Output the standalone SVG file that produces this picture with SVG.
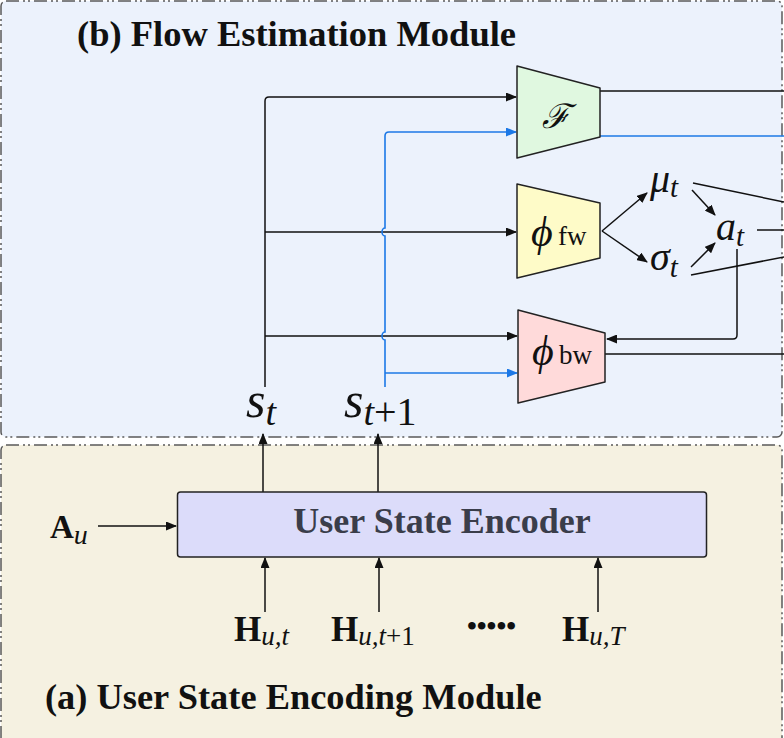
<svg xmlns="http://www.w3.org/2000/svg" width="784" height="738" viewBox="0 0 784 738">
<defs>
<marker id="ah" markerWidth="11" markerHeight="9" refX="10" refY="4.5" orient="auto" markerUnits="userSpaceOnUse"><path d="M0,0 L11,4.5 L0,9 z" fill="#111"/></marker>
<marker id="ahb" markerWidth="11" markerHeight="9" refX="10" refY="4.5" orient="auto" markerUnits="userSpaceOnUse"><path d="M0,0 L11,4.5 L0,9 z" fill="#1c78e6"/></marker>
<style>
.panel{stroke:#5a5a5a;stroke-width:1.5;stroke-dasharray:13 4 2 3 2 4}
.ln{fill:none;stroke:#111;stroke-width:1.5}
.bl{fill:none;stroke:#1c78e6;stroke-width:1.6}
.trap{stroke:#222;stroke-width:1.5;stroke-linejoin:round}
text{font-family:'Liberation Serif','DejaVu Serif',serif;fill:#111}
.it{font-style:italic}
.bd{font-weight:bold}
</style>
</defs>
<g id="panel-b">
<rect class="panel" x="1" y="1" width="781" height="436" rx="5" fill="#ecf2fc"/>
<text class="bd" x="77" y="46" font-size="36.5">(b) Flow Estimation Module</text>
</g>
<g id="panel-a">
<rect class="panel" x="1" y="445" width="781" height="310" rx="5" fill="#f5f1e1"/>
<text class="bd" x="45" y="709" font-size="36.4">(a) User State Encoding Module</text>
</g>
<g id="connectors">
<path class="ln" d="M265,387 V101 Q265,97 269,97 H516" marker-end="url(#ah)"/>
<path class="ln" d="M265,232 H516" marker-end="url(#ah)"/>
<path class="ln" d="M265,336 H517" marker-end="url(#ah)"/>
<path class="bl" d="M385,387 V340 A3,4 0 0 1 385,332 V236 A3,4 0 0 1 385,228 V136 Q385,132 389,132 H516" marker-end="url(#ahb)"/>
<path class="bl" d="M385,373 H517" marker-end="url(#ahb)"/>
<path class="ln" d="M600,91 H784"/>
<path class="bl" d="M600,136 H784"/>
<path class="ln" d="M602,231 L647,193" marker-end="url(#ah)"/>
<path class="ln" d="M602,231 L647,262" marker-end="url(#ah)"/>
<path class="ln" d="M692,190 L715,215" marker-end="url(#ah)"/>
<path class="ln" d="M691,267 L715,243" marker-end="url(#ah)"/>
<path class="ln" d="M693,183 L784,202"/>
<path class="ln" d="M757,230 H784"/>
<path class="ln" d="M691,275 L784,257"/>
<path class="ln" d="M737,249 V335 Q737,339 733,339 H607" marker-end="url(#ah)"/>
<path class="ln" d="M605,354 H784"/>
<path class="ln" d="M263,492 V434" marker-end="url(#ah)"/>
<path class="ln" d="M378,492 V434" marker-end="url(#ah)"/>
<path class="ln" d="M98,526 H176" marker-end="url(#ah)"/>
<path class="ln" d="M265,612 V558" marker-end="url(#ah)"/>
<path class="ln" d="M379,612 V558" marker-end="url(#ah)"/>
<path class="ln" d="M598,612 V558" marker-end="url(#ah)"/>
</g>
<g id="node-F">
<path class="trap" d="M517,66 L600,88 L600,137 L517,158 Z" fill="#e0f8e0"/>
<text class="it" x="556" y="128" font-size="34" text-anchor="middle">ℱ</text>
</g>
<g id="node-phi-fw">
<path class="trap" d="M517,184 L600,203 L600,258 L517,278 Z" fill="#fefbc8"/>
<text class="it" x="531" y="246" font-size="42">ϕ</text>
<text x="558" y="245" font-size="27">fw</text>
</g>
<g id="node-phi-bw">
<path class="trap" d="M518,310 L605,333 L605,382 L518,403 Z" fill="#ffdada"/>
<text class="it" x="532" y="365" font-size="42">ϕ</text>
<text x="559" y="364" font-size="27">bw</text>
</g>
<g id="node-mu">
<text class="it" x="650" y="192" font-size="40">μ<tspan font-size="29" y="197">t</tspan></text>
</g>
<g id="node-sigma">
<text class="it" x="650" y="270" font-size="40">σ<tspan font-size="29" y="277">t</tspan></text>
</g>
<g id="node-a">
<text class="it" x="716" y="240" font-size="40">a<tspan font-size="29" y="246">t</tspan></text>
</g>
<g id="node-st">
<text class="it" x="246" y="417" font-size="50">s<tspan font-size="38" y="425">t</tspan></text>
</g>
<g id="node-st1">
<text class="it" x="344" y="417" font-size="50">s<tspan font-size="38" y="425">t</tspan><tspan font-style="normal" font-size="40" y="425">+1</tspan></text>
</g>
<g id="node-encoder">
<rect x="177.5" y="492" width="529" height="65" rx="3" fill="#dcdcfa" stroke="#222" stroke-width="1.5"/>
<text class="bd" x="442" y="533" font-size="36" text-anchor="middle" style="fill:#3a3d4a">User State Encoder</text>
</g>
<g id="node-Au">
<text class="bd" x="50" y="538" font-size="33">A<tspan font-weight="normal" font-style="italic" font-size="28" y="544">u</tspan></text>
</g>
<g id="node-Hut">
<text class="bd" x="234" y="641" font-size="35">H<tspan font-weight="normal" font-style="italic" font-size="27" y="645">u,t</tspan></text>
</g>
<g id="node-Hut1">
<text class="bd" x="331" y="641" font-size="35">H<tspan font-weight="normal" font-style="italic" font-size="27" y="645">u,t</tspan><tspan font-weight="normal" font-size="27" y="645">+1</tspan></text>
</g>
<g id="node-dots">
<text class="bd" x="467" y="635" font-size="28">•••••</text>
</g>
<g id="node-HuT">
<text class="bd" x="562" y="641" font-size="35">H<tspan font-weight="normal" font-style="italic" font-size="27" y="645">u,T</tspan></text>
</g>
</svg>
